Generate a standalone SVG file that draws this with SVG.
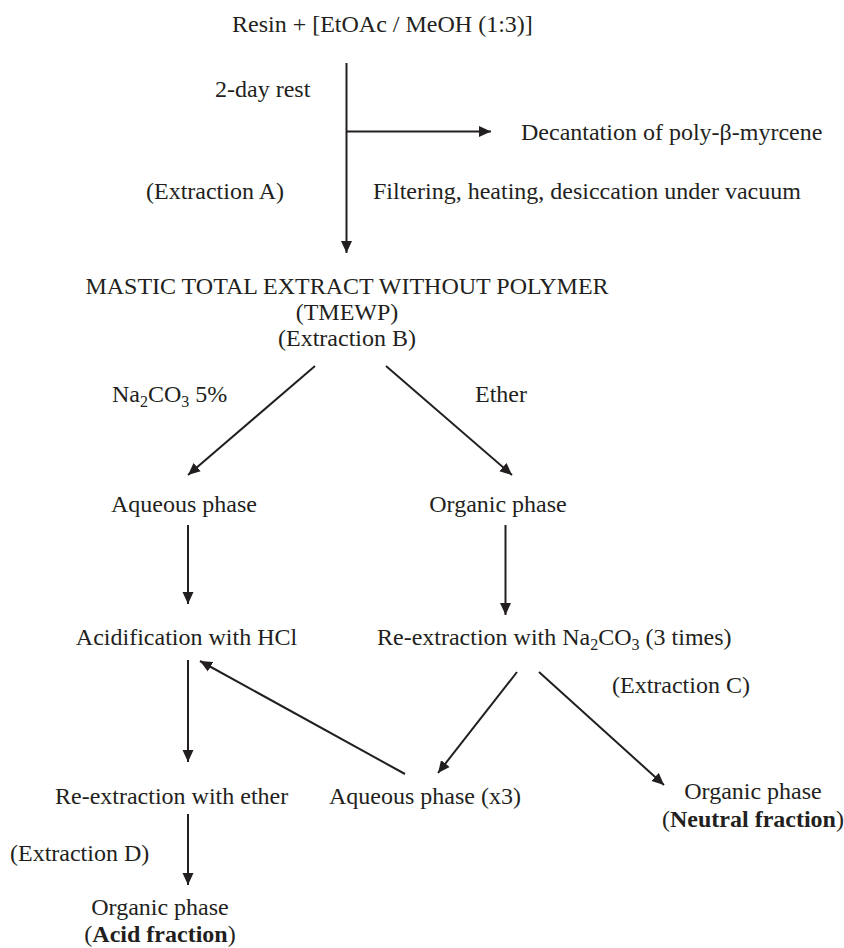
<svg xmlns="http://www.w3.org/2000/svg" width="844" height="948" viewBox="0 0 844 948">
<style>
text{font-family:"Liberation Serif","Times New Roman",serif;font-size:24px;fill:#231f20}
.m{text-anchor:middle}
.b{font-weight:bold}
.c line{stroke:#231f20;stroke-width:2;fill:none}
</style>
<defs>
<marker id="ah" markerUnits="userSpaceOnUse" markerWidth="14" markerHeight="12" refX="12" refY="6" orient="auto">
<path d="M0,0.5 L12,6 L0,11.5 Z" fill="#231f20"/>
</marker>
</defs>
<rect width="844" height="948" fill="#fff"/>
<g id="connectors" class="c">
<line x1="346.5" y1="63" x2="346.5" y2="253" marker-end="url(#ah)"/>
<line x1="346.5" y1="131.5" x2="491" y2="131.5" marker-end="url(#ah)"/>
<line x1="315" y1="366" x2="188" y2="475" marker-end="url(#ah)"/>
<line x1="386" y1="366" x2="512" y2="475" marker-end="url(#ah)"/>
<line x1="188" y1="525" x2="188" y2="604" marker-end="url(#ah)"/>
<line x1="505.5" y1="525" x2="505.5" y2="615" marker-end="url(#ah)"/>
<line x1="188" y1="660" x2="188" y2="762" marker-end="url(#ah)"/>
<line x1="405" y1="774" x2="200" y2="661" marker-end="url(#ah)"/>
<line x1="517" y1="672" x2="438" y2="773" marker-end="url(#ah)"/>
<line x1="539" y1="672" x2="664" y2="785" marker-end="url(#ah)"/>
<line x1="188" y1="814" x2="188" y2="885" marker-end="url(#ah)"/>
</g>
<g id="labels">
<text x="215" y="97">2-day rest</text>
<text x="146" y="199">(Extraction A)</text>
<text x="373" y="199">Filtering, heating, desiccation under vacuum</text>
<text x="112" y="402">Na<tspan font-size="16" dy="5">2</tspan><tspan dy="-5">CO</tspan><tspan font-size="16" dy="5">3</tspan><tspan dy="-5"> 5%</tspan></text>
<text x="475" y="402">Ether</text>
<text x="612" y="693">(Extraction C)</text>
<text x="10" y="861">(Extraction D)</text>
</g>
<g id="resin"><text x="232" y="32">Resin + [EtOAc / MeOH (1:3)]</text></g>
<g id="decantation"><text x="521" y="140">Decantation of poly-β-myrcene</text></g>
<g id="tmewp">
<text class="m" x="347" y="294">MASTIC TOTAL EXTRACT WITHOUT POLYMER</text>
<text class="m" x="347" y="320">(TMEWP)</text>
<text class="m" x="347" y="346">(Extraction B)</text>
</g>
<g id="aqueous1"><text class="m" x="184" y="512">Aqueous phase</text></g>
<g id="organic1"><text class="m" x="498" y="512">Organic phase</text></g>
<g id="acidification"><text class="m" x="186.5" y="645">Acidification with HCl</text></g>
<g id="reextraction-na"><text x="377" y="645">Re-extraction with Na<tspan font-size="16" dy="5">2</tspan><tspan dy="-5">CO</tspan><tspan font-size="16" dy="5">3</tspan><tspan dy="-5"> (3 times)</tspan></text></g>
<g id="reextraction-ether"><text x="55" y="804">Re-extraction with ether</text></g>
<g id="aqueous3"><text x="329" y="804">Aqueous phase (x3)</text></g>
<g id="neutral">
<text class="m" x="753" y="799">Organic phase</text>
<text class="m" x="753" y="827">(<tspan class="b">Neutral fraction</tspan>)</text>
</g>
<g id="acid">
<text class="m" x="160" y="915">Organic phase</text>
<text class="m" x="160" y="942">(<tspan class="b">Acid fraction</tspan>)</text>
</g>
</svg>
